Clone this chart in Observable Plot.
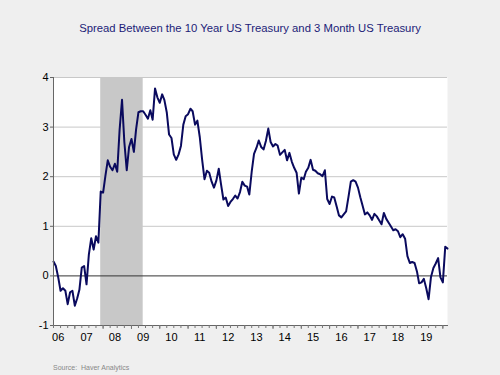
<!DOCTYPE html>
<html>
<head>
<meta charset="utf-8">
<script src="https://cdn.jsdelivr.net/npm/d3@7"></script>
<script src="https://cdn.jsdelivr.net/npm/@observablehq/plot@0.6"></script>
<style>
  html, body { margin: 0; padding: 0; background: #efefef; }
  #wrap { position: relative; width: 500px; height: 375px; font-family: "Liberation Sans", Arial, sans-serif; }
  #title { position: absolute; left: 0; top: 22px; width: 500px; text-align: center; font-size: 11.3px; color: #1c1c78; }
  #source { position: absolute; left: 53px; top: 364px; font-size: 7px; color: #888; white-space: pre; }
  #chart { position: absolute; left: 0; top: 0; }
</style>
</head>
<body>
<div id="wrap">
  <div id="chart"></div>
  <div id="title">Spread Between the 10 Year US Treasury and 3 Month US Treasury</div>
  <div id="source">Source:  Haver Analytics</div>
</div>
<script>
// Monthly spread (10Y minus 3M, %), first value = April 2006
const firstMonth = "2006-04-01";
const spread2006 = [0.29, 0.20, -0.03, -0.30, -0.25, -0.30, -0.57, -0.33, -0.30];
const spread2007 = [-0.60, -0.45, -0.28, 0.17, 0.20, -0.17, 0.43, 0.76, 0.53, 0.80, 0.67, 1.70];
const spread2008 = [1.68, 2.03, 2.33, 2.20, 2.13, 2.26, 2.10, 2.95, 3.55, 2.70, 2.13, 2.60];
const spread2009 = [2.76, 2.50, 2.95, 3.30, 3.32, 3.32, 3.25, 3.17, 3.34, 3.15, 3.78, 3.60];
const spread2010 = [3.49, 3.66, 3.55, 3.30, 2.85, 2.78, 2.45, 2.34, 2.45, 2.62, 3.05, 3.22];
const spread2011 = [3.26, 3.37, 3.32, 3.05, 3.13, 2.80, 2.35, 1.95, 2.12, 2.08, 1.90, 1.78];
const spread2012 = [1.92, 2.16, 1.85, 1.54, 1.58, 1.41, 1.49, 1.55, 1.62, 1.56, 1.69, 1.90];
const spread2013 = [1.82, 1.80, 1.64, 2.10, 2.46, 2.58, 2.73, 2.60, 2.55, 2.72, 2.97, 2.70];
const spread2014 = [2.61, 2.66, 2.63, 2.44, 2.49, 2.54, 2.33, 2.48, 2.30, 2.18, 2.08, 1.66];
const spread2015 = [1.98, 1.95, 2.10, 2.18, 2.34, 2.14, 2.12, 2.07, 2.05, 2.01, 2.13, 1.55];
const spread2016 = [1.45, 1.60, 1.58, 1.40, 1.22, 1.18, 1.24, 1.30, 1.60, 1.90, 1.93, 1.90];
const spread2017 = [1.78, 1.58, 1.42, 1.24, 1.28, 1.22, 1.13, 1.25, 1.20, 1.12, 1.04, 1.27];
const spread2018 = [1.15, 1.07, 1.00, 0.92, 0.94, 0.90, 0.78, 0.84, 0.75, 0.40, 0.26, 0.28];
const spread2019 = [0.26, 0.09, -0.15, -0.13, -0.06, -0.25, -0.47, -0.02, 0.16, 0.25, 0.36, -0.03];
const spread2020 = [-0.13, 0.59, 0.55];

const recessionStart = "2007-12-01";
const recessionEnd = "2009-06-01";
const yTicks = [-1, 0, 1, 2, 3, 4];
const gridValues = [1, 2, 3, 4];
const yearLabels = ["06","07","08","09","10","11","12","13","14","15","16","17","18","19"];

const spread = [].concat(spread2006, spread2007, spread2008, spread2009, spread2010,
  spread2011, spread2012, spread2013, spread2014, spread2015, spread2016,
  spread2017, spread2018, spread2019, spread2020);
const start = new Date(firstMonth);
const data = spread.map((v, i) => ({date: d3.utcMonth.offset(start, i), value: v}));
const xDomain = [data[0].date, data[data.length - 1].date];

const labelDates = yearLabels.map(s => new Date(Date.UTC(2000 + +s, 5, 1)));
const labelMap = new Map(labelDates.map((d, i) => [+d, yearLabels[i]]));
const quarterTicks = d3.utcMonth.every(3).range(xDomain[0], d3.utcDay.offset(xDomain[1], 1));
const yearTicks = d3.utcYear.range(xDomain[0], d3.utcDay.offset(xDomain[1], 1));

const chart = Plot.plot({
  width: 500,
  height: 375,
  marginTop: 77,
  marginBottom: 50,
  marginLeft: 53,
  marginRight: 53,
  style: {background: "transparent", fontFamily: "Liberation Sans, Arial, sans-serif", fontSize: "11px", color: "#000"},
  x: {type: "utc", domain: xDomain, label: null},
  y: {domain: [-1, 4], label: null},
  marks: [
    Plot.frame({fill: "white", stroke: null}),
    Plot.rect([{a: new Date(recessionStart), b: new Date(recessionEnd)}], {x1: "a", x2: "b", fill: "#c8c8c8"}),
    Plot.gridY(gridValues, {stroke: "#c8c8c8", strokeOpacity: 1}),
    Plot.ruleY([0], {stroke: "#333"}),
    Plot.line(data, {x: "date", y: "value", stroke: "#0a0a5e", strokeWidth: 2}),
    Plot.frame({anchor: "left", stroke: "#666"}),
    Plot.frame({anchor: "bottom", stroke: "#666"}),
    Plot.axisY(yTicks, {tickSize: 3, tickPadding: 2, stroke: "#666", fill: "#000", fontSize: 11, label: null, tickFormat: d => String(d)}),
    Plot.axisX(quarterTicks, {tickSize: 3, stroke: "#777", tickFormat: () => "", label: null}),
    Plot.axisX(yearTicks, {tickSize: 4, stroke: "#777", tickFormat: () => "", label: null}),
    Plot.axisX(labelDates, {tickSize: 0, tickPadding: 8, fill: "#000", fontSize: 11, label: null, tickFormat: d => labelMap.get(+d)})
  ]
});
document.getElementById("chart").appendChild(chart);
</script>
</body>
</html>
